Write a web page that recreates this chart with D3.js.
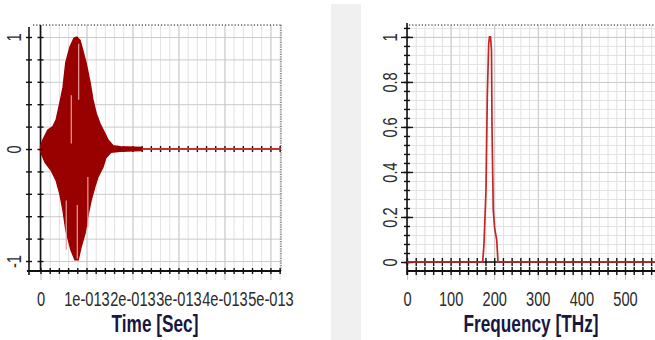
<!DOCTYPE html>
<html lang="en">
<head>
<meta charset="utf-8">
<title>Pulse in time and frequency</title>
<script src="https://d3js.org/d3.v7.min.js"></script>
<style>
  body { margin: 0; background: #fff; }
  svg { display: block; }
  .lbl text { font-family: "Liberation Sans", Arial, sans-serif; font-size: 19.5px; fill: #2b2b2b; }
  .axis-title { font-family: "Liberation Sans", Arial, sans-serif; font-size: 23px; font-weight: bold; fill: #17173f; }
  .grid line { stroke: #e2e2e2; stroke-width: 1; }
  .grid.major line { stroke: #cbcbcb; }
  .grid path, .lbl path, .ticks path { display: none; }
  .ticks line { stroke: #111; stroke-width: 1.4; }
</style>
</head>
<body>
<svg id="chart" width="655" height="340"></svg>
<script>
// ---- left chart: time domain ----
var timeTicks = [0, 1e-13, 2e-13, 3e-13, 4e-13, 5e-13];
var timeTickLabels = ["0", "1e-013", "2e-013", "3e-013", "4e-013", "5e-013"];
var ampTicks = [-1, 0, 1];
var ampTickLabels = ["-1", "0", "1"];

// envelope of the pulse (time in units of 1e-13 s)
var upperTime = [0, 0.05, 0.16, 0.27, 0.34, 0.42, 0.49, 0.55, 0.64, 0.73, 0.79, 0.86, 0.92, 0.99, 1.08, 1.14, 1.21, 1.29, 1.40, 1.47, 1.58, 1.73, 2.20];
var upperAmp  = [0.02, 0.08, 0.17, 0.20, 0.26, 0.41, 0.55, 0.77, 0.91, 0.99, 1.00, 0.97, 0.88, 0.77, 0.59, 0.44, 0.32, 0.23, 0.14, 0.08, 0.03, 0.02, 0.015];
var lowerTime = [0, 0.10, 0.23, 0.34, 0.42, 0.49, 0.55, 0.66, 0.75, 0.82, 0.88, 0.97, 1.03, 1.10, 1.18, 1.25, 1.36, 1.42, 1.53, 1.73, 2.20];
var lowerAmp  = [-0.02, -0.12, -0.19, -0.28, -0.40, -0.55, -0.72, -0.90, -0.99, -0.99, -0.88, -0.75, -0.60, -0.46, -0.34, -0.25, -0.16, -0.08, -0.03, -0.02, -0.015];

// light streaks inside the filled carrier
var streakTime = [0.56, 0.67, 0.80, 0.83, 1.03];
var streakFrom = [-0.46, 0.05, -0.50, 0.44, -0.25];
var streakTo   = [-0.90, 0.48, -0.98, 0.94, -0.70];

// ---- right chart: spectrum ----
var freqTicks = [0, 100, 200, 300, 400, 500];
var freqTickLabels = ["0", "100", "200", "300", "400", "500"];
var powerTicks = [0, 0.2, 0.4, 0.6, 0.8, 1];
var powerTickLabels = ["0", "0.2", "0.4", "0.6", "0.8", "1"];
var specFreq  = [0, 173.6, 176.6, 181.2, 184.2, 187.4, 189.2, 191.5, 193.8, 195.0, 196.5, 197.9, 201.0, 205.7, 208.7, 600];
var specPower = [0, 0, 0.08, 0.32, 0.74, 0.97, 1.00, 1.00, 0.94, 0.60, 0.40, 0.23, 0.15, 0.10, 0, 0];

var NARROW = 0.75; // squeeze text to look like a narrow face

var svg = d3.select("#chart");

// grey strip between the two panels
svg.append("rect").attr("x", 331).attr("y", 4).attr("width", 30).attr("height", 336).attr("fill", "#f0f0f0");

function addGrid(g, axis, cls, tx, ty) {
  g.append("g").attr("class", "grid " + cls).attr("transform", "translate(" + tx + "," + ty + ")").call(axis);
}

function addTicks(g, axis, tx, ty) {
  g.append("g").attr("class", "ticks").attr("transform", "translate(" + tx + "," + ty + ")").call(axis);
}

function line(g, x1, y1, x2, y2, w, dash) {
  var l = g.append("line").attr("x1", x1).attr("y1", y1).attr("x2", x2).attr("y2", y2)
    .attr("stroke", dash ? "#5a5a5a" : "#111").attr("stroke-width", w);
  if (dash) l.attr("stroke-dasharray", dash);
}

function squeezeXLabels(sel) {
  sel.selectAll("text").attr("transform", "scale(" + NARROW + ",1)");
}

function rotateYLabels(sel, off) {
  sel.selectAll("text")
    .attr("x", 0).attr("y", 0).attr("dy", "0.35em")
    .attr("text-anchor", "middle")
    .attr("transform", "translate(" + off + ",0) rotate(-90) scale(" + NARROW + ",1)");
}

function title(g, cx, text) {
  g.append("text").attr("class", "axis-title")
    .attr("transform", "translate(" + cx + ",332) scale(" + NARROW + ",1)")
    .attr("text-anchor", "middle").text(text);
}

// ================= time domain =================
function drawTime() {
  var g = svg.append("g");
  var x = d3.scaleLinear().domain([-0.25e-13, 5.23e-13]).range([29, 281]);
  var y = d3.scaleLinear().domain([-1.089, 1.107]).range([271, 25]);
  var left = 29, right = 281, top = 25, bottom = 271;

  var minorX = d3.range(0, 27).map(function(i) { return i * 0.2e-13; });
  var gridY = d3.range(-5, 6).map(function(i) { return i * 0.2; });

  addGrid(g, d3.axisBottom(x).tickValues(minorX).tickSize(-(280 - top)).tickFormat(""), "", 0, 280);
  addGrid(g, d3.axisBottom(x).tickValues(timeTicks).tickSize(-(280 - top)).tickFormat(""), "major", 0, 280);
  addGrid(g, d3.axisLeft(y).tickValues(gridY).tickSize(-(right - x(0))).tickFormat(""), "major", x(0), 0);

  // frame
  line(g, 33, top, right, top, 1.5, "1.2,2");
  line(g, right, top, right, bottom, 1.2, "1.2,1.2");
  line(g, left, top + 2, left, bottom + 4, 1.6);
  line(g, x(0), top, x(0), bottom, 1.6);
  line(g, x(0), y(0), right, y(0), 1.6);

  // ticks along zero line (hidden under the pulse)
  addTicks(g, d3.axisTop(x).tickValues(minorX).tickSize(3).tickFormat(""), 0, y(0));
  addTicks(g, d3.axisBottom(x).tickValues(minorX).tickSize(3).tickFormat(""), 0, y(0));

  // residual carrier line on zero
  g.append("line")
    .attr("x1", x(2.2e-13)).attr("x2", right).attr("y1", y(0)).attr("y2", y(0))
    .attr("stroke", "#c83030").attr("stroke-width", 2);

  // the pulse: carrier is too dense to resolve, so fill between the envelopes
  var pts = upperTime.map(function(t, i) { return [t * 1e-13, upperAmp[i]]; });
  for (var i = lowerTime.length - 1; i >= 0; i--) pts.push([lowerTime[i] * 1e-13, lowerAmp[i]]);
  g.append("path")
    .attr("d", d3.line().x(function(d) { return x(d[0]); }).y(function(d) { return y(d[1]); })(pts) + "Z")
    .attr("fill", "#990000").attr("stroke", "#990000").attr("stroke-width", 1.4)
    .attr("stroke-linejoin", "miter");

  g.selectAll(".streak").data(streakTime).enter().append("line")
    .attr("class", "streak")
    .attr("x1", function(d) { return x(d * 1e-13); })
    .attr("x2", function(d) { return x(d * 1e-13); })
    .attr("y1", function(d, i) { return y(streakFrom[i]); })
    .attr("y2", function(d, i) { return y(streakTo[i]); })
    .attr("stroke", "#e6a0a0").attr("stroke-width", 1.2);

  // y axis lines with crossing ticks
  line(g, left - 2, bottom, right, bottom, 2);
  [left, x(0)].forEach(function(px) {
    addTicks(g, d3.axisLeft(y).tickValues(gridY).tickSize(3).tickFormat(""), px, 0);
    addTicks(g, d3.axisRight(y).tickValues(gridY).tickSize(3).tickFormat(""), px, 0);
  });
  addTicks(g, d3.axisTop(x).tickValues(minorX).tickSize(3).tickFormat(""), 0, bottom);
  addTicks(g, d3.axisBottom(x).tickValues(minorX).tickSize(3).tickFormat(""), 0, bottom);

  // labels
  var xl = g.append("g").attr("class", "lbl").attr("transform", "translate(0," + bottom + ")")
    .call(d3.axisBottom(x).tickValues(timeTicks).tickSize(0).tickPadding(21)
      .tickFormat(function(d, i) { return timeTickLabels[i]; }));
  squeezeXLabels(xl);
  var yl = g.append("g").attr("class", "lbl").attr("transform", "translate(" + left + ",0)")
    .call(d3.axisLeft(y).tickValues(ampTicks).tickSize(0)
      .tickFormat(function(d, i) { return ampTickLabels[i]; }));
  rotateYLabels(yl, -15);

  title(g, 155, "Time [Sec]");
}

// ================= frequency domain =================
function drawFreq() {
  var g = svg.append("g");
  var x = d3.scaleLinear().domain([0, 600]).range([407, 668.6]);
  var y = d3.scaleLinear().domain([-0.04, 1.053]).range([271, 25]);
  var left = 407, right = 670, top = 25, bottom = 271;

  var minorX = d3.range(0, 31).map(function(i) { return i * 20; });
  var minorY = d3.range(0, 27).map(function(i) { return i * 0.04; });

  addGrid(g, d3.axisBottom(x).tickValues(minorX).tickSize(-(280 - top)).tickFormat(""), "", 0, 280);
  addGrid(g, d3.axisLeft(y).tickValues(minorY).tickSize(-(right - left)).tickFormat(""), "", left, 0);
  addGrid(g, d3.axisBottom(x).tickValues(freqTicks).tickSize(-(280 - top)).tickFormat(""), "major", 0, 280);
  addGrid(g, d3.axisLeft(y).tickValues(powerTicks).tickSize(-(right - left)).tickFormat(""), "major", left, 0);

  line(g, left + 2, top, right, top, 1.5, "1.2,2");
  line(g, left, top - 2, left, bottom + 4, 1.6);
  line(g, left, y(0), right, y(0), 1.6);
  line(g, left, bottom, right, bottom, 2);

  addTicks(g, d3.axisLeft(y).tickValues(minorY).tickSize(3).tickFormat(""), left, 0);
  addTicks(g, d3.axisRight(y).tickValues(minorY).tickSize(3).tickFormat(""), left, 0);
  addTicks(g, d3.axisLeft(y).tickValues(powerTicks).tickSize(6).tickFormat(""), left, 0);
  addTicks(g, d3.axisRight(y).tickValues(powerTicks).tickSize(6).tickFormat(""), left, 0);

  [y(0), bottom].forEach(function(py) {
    addTicks(g, d3.axisTop(x).tickValues(minorX).tickSize(4).tickFormat(""), 0, py);
    addTicks(g, d3.axisBottom(x).tickValues(minorX).tickSize(4).tickFormat(""), 0, py);
  });

  var pts = specFreq.map(function(f, i) { return [f, specPower[i]]; });
  g.append("path")
    .attr("d", d3.line().x(function(d) { return x(d[0]); }).y(function(d) { return y(d[1]); })(pts))
    .attr("fill", "none").attr("stroke", "#c42626").attr("stroke-width", 1.7);

  var xl = g.append("g").attr("class", "lbl").attr("transform", "translate(0," + bottom + ")")
    .call(d3.axisBottom(x).tickValues(freqTicks).tickSize(0).tickPadding(21)
      .tickFormat(function(d, i) { return freqTickLabels[i]; }));
  squeezeXLabels(xl);
  var yl = g.append("g").attr("class", "lbl").attr("transform", "translate(" + left + ",0)")
    .call(d3.axisLeft(y).tickValues(powerTicks).tickSize(0)
      .tickFormat(function(d, i) { return powerTickLabels[i]; }));
  rotateYLabels(yl, -17);

  title(g, 531, "Frequency [THz]");
}

drawTime();
drawFreq();
</script>
</body>
</html>
